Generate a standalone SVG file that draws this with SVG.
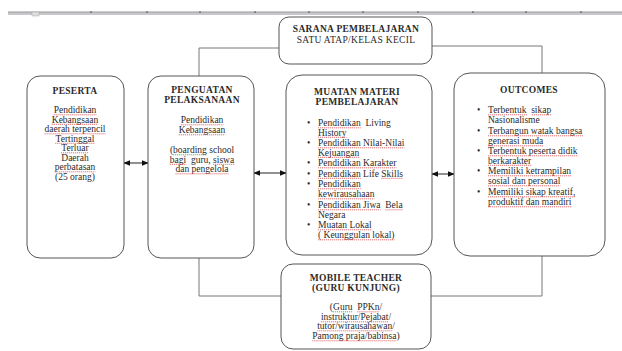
<svg xmlns="http://www.w3.org/2000/svg" width="622" height="351" viewBox="0 0 622 351">
<style>
.box{fill:#fff;stroke:#555;stroke-width:1}
.ln{fill:none;stroke:#777;stroke-width:1}
.ar{fill:none;stroke:#222;stroke-width:1;marker-start:url(#ah);marker-end:url(#ah)}
text{font-family:"Liberation Serif","Times New Roman",serif;font-size:9.5px;fill:#2a2a2a;white-space:pre}
.h{font-weight:bold;text-anchor:middle;letter-spacing:0.3px}
.c{text-anchor:middle}
.sq line{stroke:#e24a4a;stroke-width:0.8;stroke-dasharray:1.2 0.8}
.sq line.gr{stroke:#3c9a3c}
</style>
<defs>
<marker id="ah" viewBox="0 0 10 10" refX="9" refY="5" markerWidth="7" markerHeight="7" orient="auto-start-reverse" markerUnits="userSpaceOnUse">
<path d="M0,1 L10,5 L0,9 Z" fill="#111"/>
</marker>
</defs>
<g id="ruler">
<rect x="8" y="12" width="614" height="3" fill="#c8c8cc"/>
<line x1="8" y1="12" x2="622" y2="12" stroke="#999" stroke-width="1"/>
<path d="M90,12h2M146,12h2M199,12h2M254,12h2M308,12h2M362,12h2M417,12h2M472,12h2M525,12h2M580,12h2" stroke="#555" stroke-width="1.2"/>
<rect x="32" y="12" width="7" height="4" fill="#ddd" stroke="#aaa" stroke-width="0.5"/>
</g>
<g id="connectors">
<polyline class="ln" points="279,48 199,48 199,76"/>
<polyline class="ln" points="432,46 542,46 542,73"/>
<polyline class="ln" points="199,258 199,296 281,296"/>
<polyline class="ln" points="542,256 542,296 431,296"/>
<line class="ar" x1="124" y1="163" x2="148" y2="163"/>
<line class="ar" x1="254" y1="173" x2="286" y2="173"/>
<line class="ar" x1="432" y1="174" x2="454" y2="174"/>
</g>
<g id="sarana">
<rect class="box" x="279" y="17" width="153" height="47" rx="10"/>
<text class="h" x="356" y="32">SARANA PEMBELAJARAN</text>
<text class="c" x="356" y="43" letter-spacing="0.3">SATU ATAP/KELAS KECIL</text>
</g>
<g id="peserta">
<rect class="box" x="27" y="76" width="97" height="182" rx="13"/>
<text class="h" x="75" y="94">PESERTA</text>
<text class="c" x="75" y="113">Pendidikan</text>
<text class="c" x="75" y="122.5">Kebangsaan</text>
<text class="c" x="75" y="132">daerah terpencil</text>
<text class="c" x="75" y="141.5">Tertinggal</text>
<text class="c" x="75" y="151">Terluar</text>
<text class="c" x="75" y="160.5">Daerah</text>
<text class="c" x="75" y="170">perbatasan</text>
<text class="c" x="75" y="179.5">(25 orang)</text>
<g class="sq">
<line x1="53.6" y1="114.8" x2="96.4" y2="114.8"/>
<line x1="51.8" y1="124.3" x2="98.2" y2="124.3"/>
<line x1="44.5" y1="133.8" x2="105.5" y2="133.8"/>
<line x1="55.2" y1="143.3" x2="94.8" y2="143.3"/>
<line x1="61" y1="152.8" x2="89" y2="152.8"/>
<line x1="54.7" y1="171.8" x2="95.3" y2="171.8"/>
</g>
</g>
<g id="penguatan">
<rect class="box" x="148" y="76" width="106" height="182" rx="13"/>
<text class="h" x="202" y="93">PENGUATAN</text>
<text class="h" x="202" y="103">PELAKSANAAN</text>
<text class="c" x="202" y="123">Pendidikan</text>
<text class="c" x="202" y="133">Kebangsaan</text>
<text class="c" x="202" y="153">(boarding school</text>
<text class="c" x="202" y="162.5">bagi  guru, siswa</text>
<text class="c" x="202" y="172">dan pengelola</text>
<g class="sq">
<line x1="180.6" y1="124.8" x2="223.4" y2="124.8"/>
<line x1="178.8" y1="134.8" x2="225.2" y2="134.8"/>
<line class="gr" x1="173.1" y1="154.8" x2="206.9" y2="154.8"/>
<line x1="169.8" y1="164.3" x2="186.2" y2="164.3"/>
<line x1="213.1" y1="164.3" x2="234.2" y2="164.3"/>
<line x1="175.5" y1="173.8" x2="228.5" y2="173.8"/>
</g>
</g>
<g id="muatan">
<rect class="box" x="286" y="75" width="146" height="180" rx="16"/>
<text class="h" x="357" y="95">MUATAN MATERI</text>
<text class="h" x="357" y="105">PEMBELAJARAN</text>
<text x="307" y="126">•</text><text x="318" y="126">Pendidikan  Living</text>
<text x="318" y="135.5">History</text>
<text x="307" y="146">•</text><text x="318" y="146">Pendidikan Nilai-Nilai</text>
<text x="318" y="155.5">Kejuangan</text>
<text x="307" y="166">•</text><text x="318" y="166">Pendidikan Karakter</text>
<text x="307" y="176.5">•</text><text x="318" y="176.5">Pendidikan Life Skills</text>
<text x="307" y="187">•</text><text x="318" y="187">Pendidikan</text>
<text x="318" y="197">kewirausahaan</text>
<text x="307" y="208">•</text><text x="318" y="208">Pendidikan Jiwa  Bela</text>
<text x="318" y="217.5">Negara</text>
<text x="307" y="228">•</text><text x="318" y="228">Muatan Lokal</text>
<text x="318" y="238">( Keunggulan lokal)</text>
<g class="sq">
<line x1="318" y1="127.8" x2="360.8" y2="127.8"/>
<line x1="318" y1="137.3" x2="346.5" y2="137.3"/>
<line x1="318" y1="147.8" x2="404.3" y2="147.8"/>
<line x1="318" y1="157.3" x2="359.2" y2="157.3"/>
<line x1="318" y1="167.8" x2="396.4" y2="167.8"/>
<line x1="318" y1="178.3" x2="360.8" y2="178.3"/>
<line x1="381.3" y1="178.3" x2="403" y2="178.3"/>
<line x1="318" y1="188.8" x2="360.8" y2="188.8"/>
<line x1="318" y1="198.8" x2="374.4" y2="198.8"/>
<line x1="318" y1="209.8" x2="380.5" y2="209.8"/>
<line x1="385.3" y1="209.8" x2="402.7" y2="209.8"/>
<line x1="318" y1="229.8" x2="371.6" y2="229.8"/>
<line x1="318" y1="239.8" x2="394.5" y2="239.8"/>
</g>
</g>
<g id="outcomes">
<rect class="box" x="454" y="73" width="151" height="183" rx="16"/>
<text class="h" x="529" y="93">OUTCOMES</text>
<text x="477" y="113">•</text><text x="488" y="113">Terbentuk  sikap</text>
<text x="488" y="123">Nasionalisme</text>
<text x="477" y="134">•</text><text x="488" y="134">Terbangun watak bangsa</text>
<text x="488" y="144">generasi muda</text>
<text x="477" y="154">•</text><text x="488" y="154">Terbentuk peserta didik</text>
<text x="488" y="163.5">berkarakter</text>
<text x="477" y="174">•</text><text x="488" y="174">Memiliki ketrampilan</text>
<text x="488" y="184">sosial dan personal</text>
<text x="477" y="195">•</text><text x="488" y="195">Memiliki sikap kreatif,</text>
<text x="488" y="205">produktif dan mandiri</text>
<g class="sq">
<line x1="488" y1="114.8" x2="527" y2="114.8"/>
<line x1="531.8" y1="114.8" x2="551.9" y2="114.8"/>
<line x1="488" y1="135.8" x2="583" y2="135.8"/>
<line x1="488" y1="145.8" x2="543.1" y2="145.8"/>
<line x1="488" y1="155.8" x2="578.2" y2="155.8"/>
<line x1="488" y1="165.3" x2="531.3" y2="165.3"/>
<line x1="488" y1="175.8" x2="571.1" y2="175.8"/>
<line x1="488" y1="185.8" x2="560.3" y2="185.8"/>
<line x1="488" y1="196.8" x2="575.3" y2="196.8"/>
<line x1="488" y1="206.8" x2="571.4" y2="206.8"/>
</g>
</g>
<g id="mobile">
<rect class="box" x="281" y="264" width="150" height="85" rx="12"/>
<text class="h" x="356" y="281">MOBILE TEACHER</text>
<text class="h" x="356" y="291">(GURU KUNJUNG)</text>
<text class="c" x="356" y="310">(Guru  PPKn/</text>
<text class="c" x="356" y="320">instruktur/Pejabat/</text>
<text class="c" x="356" y="329">tutor/wirausahawan/</text>
<text class="c" x="356" y="339">Pamong praja/babinsa)</text>
<g class="sq">
<line class="gr" x1="333" y1="311.8" x2="352.5" y2="311.8"/>
<line x1="357.3" y1="311.8" x2="379.5" y2="311.8"/>
<line x1="320.9" y1="321.8" x2="388.5" y2="321.8"/>
<line x1="317.2" y1="330.8" x2="392.1" y2="330.8"/>
<line x1="312.3" y1="340.8" x2="396.5" y2="340.8"/>
</g>
</g>
</svg>
